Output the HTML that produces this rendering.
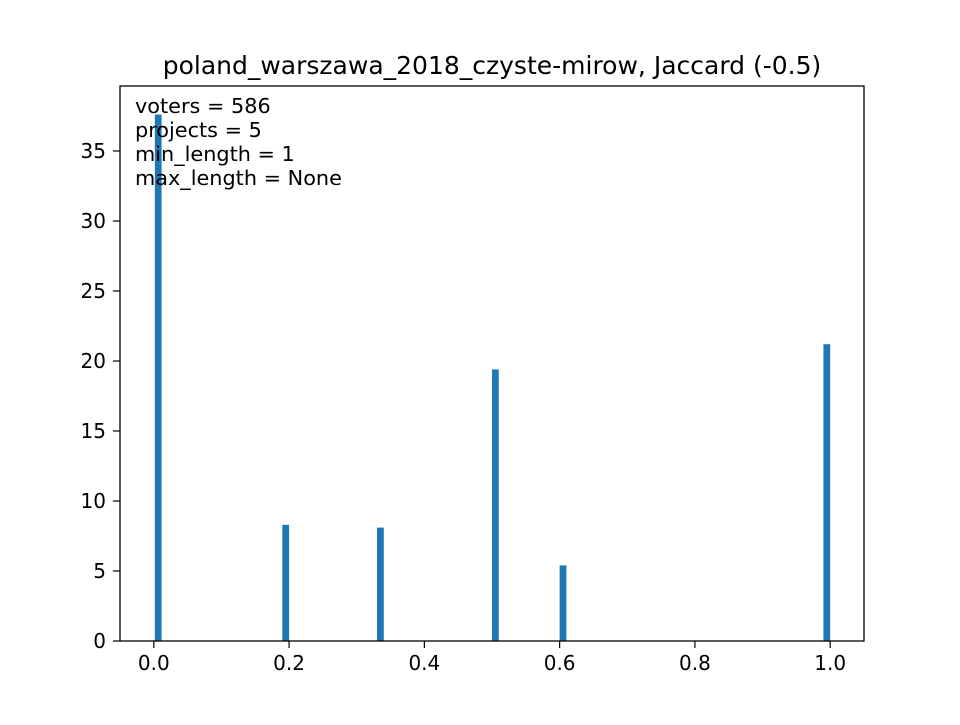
<!DOCTYPE html>
<html><head><meta charset="utf-8"><style>
body{margin:0;background:#fff}
svg text{font-family:"DejaVu Sans","Liberation Sans",sans-serif;fill:#000}
</style></head><body>
<svg width="960" height="720" viewBox="0 0 960 720">
<rect width="960" height="720" fill="#fff"/>
<g id="bars"></g>
<g id="xticks"></g>
<g id="yticks"></g>
<rect x="120" y="86" width="744" height="555" fill="none" stroke="#000" stroke-width="1.3"/>
<text x="492" y="74" text-anchor="middle" font-size="25">poland_warszawa_2018_czyste-mirow, Jaccard (-0.5)</text>
<g font-size="20.8">
<text x="135" y="113">voters = 586</text>
<text x="135" y="137">projects = 5</text>
<text x="135" y="161">min_length = 1</text>
<text x="135" y="185">max_length = None</text>
</g>
</svg>
<script>
const binStarts=[0.0015,0.19,0.33,0.50,0.60,0.99];
const counts=[37.6,8.3,8.1,19.4,5.4,21.2];
const xTicks=[0,0.2,0.4,0.6,0.8,1.0];
const xTickLabels=["0.0","0.2","0.4","0.6","0.8","1.0"];
const yTicks=[0,5,10,15,20,25,30,35];
const binWidth=0.01;
const X=v=>120+(v+0.05)/1.1*744;
const Y=v=>641-v*14;
const NS="http://www.w3.org/2000/svg";
const bars=document.getElementById('bars');
binStarts.forEach((b,i)=>{
 const r=document.createElementNS(NS,'rect');
 r.setAttribute('x',X(b));r.setAttribute('width',X(b+binWidth)-X(b));
 r.setAttribute('y',Y(counts[i]));r.setAttribute('height',Y(0)-Y(counts[i]));
 r.setAttribute('fill','#1f77b4');
 
 
 bars.appendChild(r);
});
const xt=document.getElementById('xticks');
xTicks.forEach((t,i)=>{
 const x=X(t);
 const l=document.createElementNS(NS,'line');
 l.setAttribute('x1',x);l.setAttribute('x2',x);l.setAttribute('y1',641);l.setAttribute('y2',648);l.setAttribute('stroke','#000');l.setAttribute('stroke-width','1.2');
 
 
 xt.appendChild(l);
 const s=document.createElementNS(NS,'text');
 s.setAttribute('x',x);s.setAttribute('y',670);s.setAttribute('text-anchor','middle');s.setAttribute('font-size','20');
 s.textContent=xTickLabels[i];
 
 
 xt.appendChild(s);
});
const yt=document.getElementById('yticks');
yTicks.forEach(t=>{
 const y=Y(t);
 const l=document.createElementNS(NS,'line');
 l.setAttribute('x1',113);l.setAttribute('x2',120);l.setAttribute('y1',y);l.setAttribute('y2',y);l.setAttribute('stroke','#000');l.setAttribute('stroke-width','1.2');
 
 
 yt.appendChild(l);
 const s=document.createElementNS(NS,'text');
 s.setAttribute('x',106);s.setAttribute('y',y+7);s.setAttribute('text-anchor','end');s.setAttribute('font-size','20');
 s.textContent=String(t);
 
 
 yt.appendChild(s);
});
</script>
</body></html>
